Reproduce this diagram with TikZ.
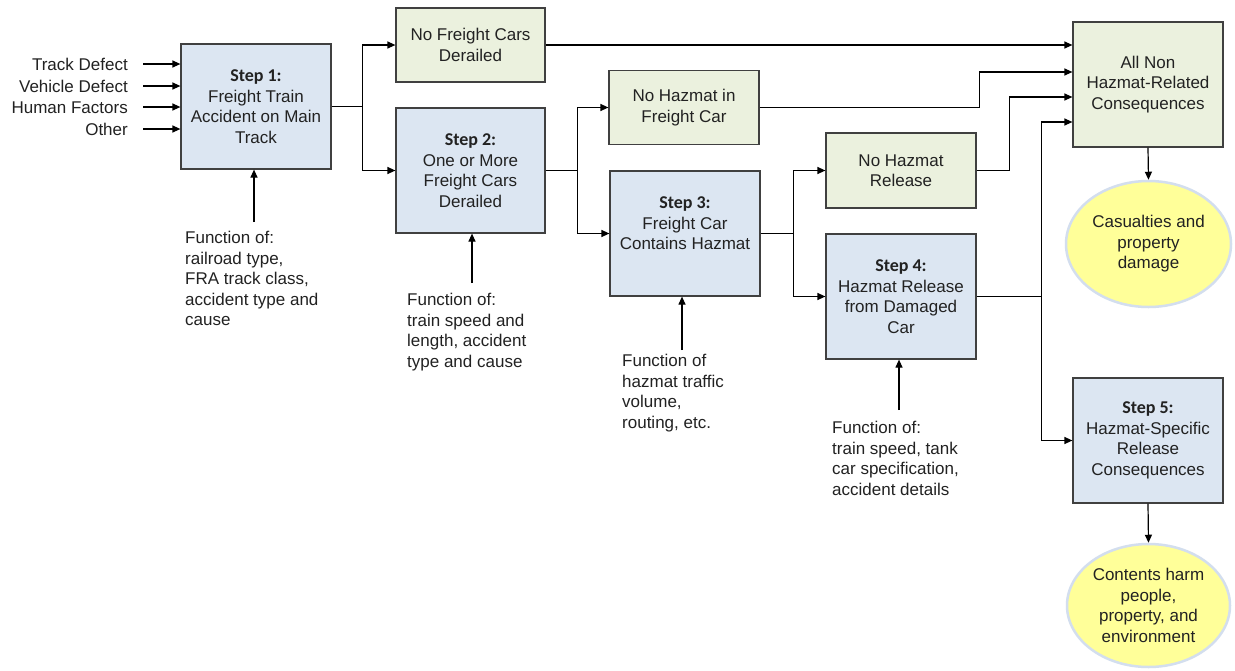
\documentclass[tikz,border=0pt]{standalone}
\usepackage{fontspec}
\setmainfont{Liberation Sans}
\newfontfamily\calib{Carlito}
\usetikzlibrary{arrows.meta,shapes.geometric,calc}
\definecolor{bluefill}{HTML}{DCE6F2}
\definecolor{greenfill}{HTML}{EBF1DE}
\definecolor{edge}{HTML}{404040}
\definecolor{txt}{HTML}{222222}
\definecolor{yel}{HTML}{FFFF99}
\definecolor{ering}{HTML}{D3DEEE}
\newcommand{\hdr}[1]{{\calib\bfseries\fontsize{18}{20.5}\selectfont #1}}
\tikzset{
  box/.style={draw=edge, line width=1.2pt, minimum width=150pt, minimum height=125pt,
    inner sep=0pt, align=center, text=txt, font=\fontsize{17}{20.5}\selectfont},
  stepbox/.style={box, fill=bluefill},
  greenbox/.style={box, fill=greenfill, minimum height=74pt},
  conseq/.style={ellipse, draw=ering, line width=2.5pt, fill=yel, inner sep=0pt,
    align=center, text=txt, font=\fontsize{17}{20.5}\selectfont},
  arr/.style={draw=black, line width=1.2pt, -{Triangle[length=8pt,width=7pt]}},
  ln/.style={draw=black, line width=1.2pt},
  lbl/.style={anchor=east, inner sep=0pt, text height=12pt, text depth=0pt, text=txt,
    font=\fontsize{17}{20.5}\selectfont},
  fn/.style={anchor=north west, inner sep=0pt, align=left, text=txt,
    font=\fontsize{17}{20.5}\selectfont},
}
\begin{document}
\begin{tikzpicture}[x=1pt,y=-1pt]
\fill[white] (0,0) rectangle (1235,670);
\useasboundingbox (0,0) rectangle (1235,670);

% boxes
\node[stepbox] (s1) at (256,106.5) {\hdr{Step 1:}\\Freight Train\\Accident on Main\\Track};
\node[greenbox, minimum width=149pt] (nf) at (470.5,45) {No Freight Cars\\Derailed};
\node[stepbox, minimum width=149pt] (s2) at (470.5,170.5) {\hdr{Step 2:}\\One or More\\Freight Cars\\Derailed};
\node[greenbox] (nh) at (684,107.5) {No Hazmat in\\Freight Car};
\node[stepbox] (s3) at (685,233.5) {\hdr{Step 3:}\\Freight Car\\Contains Hazmat\\\mbox{}};
\node[greenbox, minimum height=75pt] (nr) at (901,170.5) {No Hazmat\\Release};
\node[stepbox] (s4) at (901,296.5) {\hdr{Step 4:}\\Hazmat Release\\from Damaged\\Car};
\node[greenbox, minimum height=125pt] (an) at (1148,84.5) {All Non\\Hazmat-Related\\Consequences};
\node[stepbox] (s5) at (1148,440.5) {\hdr{Step 5:}\\Hazmat-Specific\\Release\\Consequences};
\node[conseq, minimum width=165pt, minimum height=126pt] (e1) at (1148.5,244) {Casualties and\\property\\damage};
\node[conseq, minimum width=163pt, minimum height=123pt] (e2) at (1148.5,605.5) {Contents harm\\people,\\property, and\\environment};

% input labels
\node[lbl] (i1) at (128,64) {Track Defect};
\node[lbl] (i2) at (128,86) {Vehicle Defect};
\node[lbl] (i3) at (128,107) {Human Factors};
\node[lbl] (i4) at (128,129) {Other};
\foreach \i in {i1,i2,i3,i4}{
  \draw[arr] ([xshift=15pt]\i.east) -- (\i.east -| s1.west);
}

% function labels
\node[fn] (f1) at (185,231) {Function of:\\railroad type,\\FRA track class,\\accident type and\\cause};
\node[fn] (f2) at (407,293) {Function of:\\train speed and\\length, accident\\type and cause};
\node[fn] (f3) at (622,354) {Function of\\hazmat traffic\\volume,\\routing, etc.};
\node[fn] (f4) at (832,421) {Function of:\\train speed, tank\\car specification,\\accident details};
\coordinate (b1) at (254,222);
\coordinate (b2) at (472,283);
\coordinate (b3) at (682,350);
\coordinate (b4) at (899,410);
\draw[arr] (b1) -- (b1 |- s1.south);
\draw[arr] (b2) -- (b2 |- s2.south);
\draw[arr] (b3) -- (b3 |- s3.south);
\draw[arr] (b4) -- (b4 |- s4.south);

% flow
\draw[ln] (s1.east) -- ++(31,0) coordinate (j1);
\draw[arr] (j1) |- (nf.west);
\draw[arr] (j1) |- (s2.west);
\draw[ln] (s2.east) -- ++(32,0) coordinate (j2);
\draw[arr] (j2) |- (nh.west);
\draw[arr] (j2) |- (s3.west);
\draw[ln] (s3.east) -- ++(33,0) coordinate (j3);
\draw[arr] (j3) |- (nr.west);
\draw[arr] (j3) |- (s4.west);

\draw[arr] (nf.east) -- (nf.east -| an.west);
\draw[arr] (nh.east) -- ++(220,0) |- ([yshift=12.5pt]an.west);
\draw[arr] (nr.east) -- ++(33,0) |- ([yshift=-12.5pt]an.west);
\draw[ln] (s4.east) -- ++(65,0) coordinate (j4);
\draw[arr] (j4) |- ([yshift=-37.5pt]an.west);
\draw[arr] (j4) |- (s5.west);

\draw[arr] (an.south) -- (e1.north);
\draw[arr] (s5.south) -- (e2.north);
\end{tikzpicture}
\end{document}
